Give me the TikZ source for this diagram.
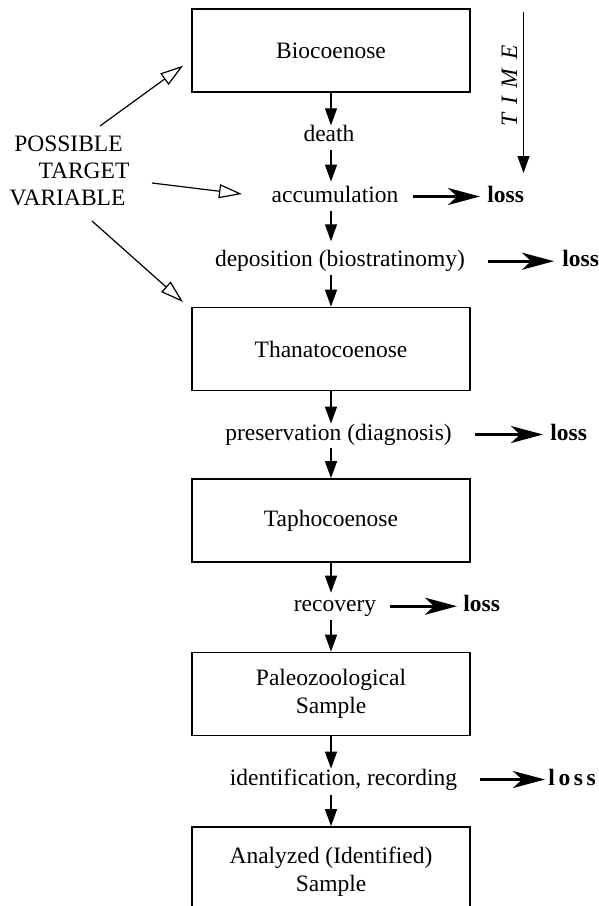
\documentclass[tikz,border=0pt]{standalone}
\usepackage{fontspec}
\setmainfont{Liberation Serif}
\usetikzlibrary{arrows.meta,calc}
\begin{document}
\begin{tikzpicture}[x=0.5pt,y=-0.5pt,
  every node/.style={font=\fontsize{11.75pt}{14pt}\selectfont},
  box/.style={draw,line width=0.85pt,minimum width=139pt,minimum height=41.5pt,inner sep=0pt,align=center},
  txt/.style={inner sep=0pt,text height=8pt,text depth=2.5pt,anchor=base},
  flow/.style={line width=0.65pt,-{Triangle[length=8.5pt,width=6pt]}},
  lossarrow/.style={line width=1.5pt,-{Stealth[length=16pt,width=8.5pt,inset=4.5pt]}},
  target/.style={line width=0.6pt,-{Triangle[open,length=11.5pt,width=7pt]}},
  losstxt/.style={inner sep=0pt,text height=8pt,text depth=2.5pt,anchor=base west,font=\fontsize{11.75pt}{14pt}\selectfont\bfseries}
]
\useasboundingbox (0,0) rectangle (599,906);

% boxes
\node[box] (bio) at (331,50.35) {Biocoenose};
\node[box] (thana) at (331,349) {Thanatocoenose};
\node[box] (tapho) at (331,520.5) {Taphocoenose};
\node[box] (paleo) at (331,694) {Paleozoological\\Sample};
\node[box,minimum height=45pt] (anal) at (331,872) {Analyzed (Identified)\\Sample};

% process texts
\node[txt] (death) at (329,141.7) {death};
\node[txt] (accum) at (335,202) {accumulation};
\node[txt] (depos) at (340,266.7) {deposition (biostratinomy)};
\node[txt] (pres) at (338.5,440) {preservation (diagnosis)};
\node[txt] (recov) at (335,611.7) {recovery};
\node[txt] (ident) at (343.5,785) {identification, recording};

% flow arrows
\draw[flow] (bio.south) -- (bio.south |- death.north);
\draw[flow,shorten <=1.5pt,shorten >=2pt] (bio.south |- death.south) -- (bio.south |- accum.north);
\draw[flow,shorten <=2pt,shorten >=4.5pt] (bio.south |- accum.south) -- (bio.south |- depos.north);
\draw[flow,shorten <=1.5pt] (bio.south |- depos.south) -- (thana.north);
\draw[flow] (thana.south) -- (thana.south |- pres.north);
\draw[flow,shorten <=1.5pt] (thana.south |- pres.south) -- (tapho.north);
\draw[flow,shorten >=1.3pt] (tapho.south) -- (tapho.south |- recov.north);
\draw[flow,shorten <=1.5pt] (tapho.south |- recov.south) -- (paleo.north);
\draw[flow] (paleo.south) -- (paleo.south |- ident.north);
\draw[flow,shorten <=2.5pt] (paleo.south |- ident.south) -- (anal.north);

% loss
\node[losstxt] (lossA) at (487,202) {loss};
\node[losstxt] (lossB) at (562,266.7) {loss};
\node[losstxt] (lossC) at (550,440) {loss};
\node[losstxt] (lossD) at (463,611.7) {loss};
\node[losstxt] (lossE) at (548,785) {l\kern1.8pt o\kern1.8pt s\kern1.8pt s};
\draw[lossarrow,shorten <=7.35pt,shorten >=3.5pt] (accum.east) -- (lossA.west);
\draw[lossarrow,shorten <=11.5pt,shorten >=4pt] (depos.east) -- (lossB.west);
\draw[lossarrow,shorten <=11.65pt,shorten >=3.5pt] (pres.east) -- (lossC.west);
\draw[lossarrow,shorten <=7pt,shorten >=3pt] (recov.east) -- (lossD.west);
\draw[lossarrow,shorten <=11.5pt,shorten >=1.5pt] (ident.east) -- (lossE.west);

% time
\coordinate (t1) at (523.5,11.7);
\coordinate (t2) at (523.5,173);
\draw[flow] (t1) -- (t2);
\node[rotate=90,anchor=base,inner sep=0pt,font=\fontsize{11.75pt}{14pt}\selectfont\itshape] (time) at (517,86) {\spaceskip=4.5pt T I M E};

% possible target variable
\node[txt] (pv1) at (68.5,151.7) {POSSIBLE};
\node[txt] (pv2) at (84,178.3) {TARGET};
\node[txt] (pv3) at (67.5,205) {VARIABLE};
\coordinate (a1s) at (100,126);
\coordinate (a1e) at (183,65.7);
\coordinate (a2s) at (152,183);
\coordinate (a2e) at (242,194);
\coordinate (a3s) at (92,221);
\coordinate (a3e) at (183,302);
\draw[target] (a1s) -- (a1e);
\draw[target] (a2s) -- (a2e);
\draw[target] (a3s) -- (a3e);
\end{tikzpicture}
\end{document}
